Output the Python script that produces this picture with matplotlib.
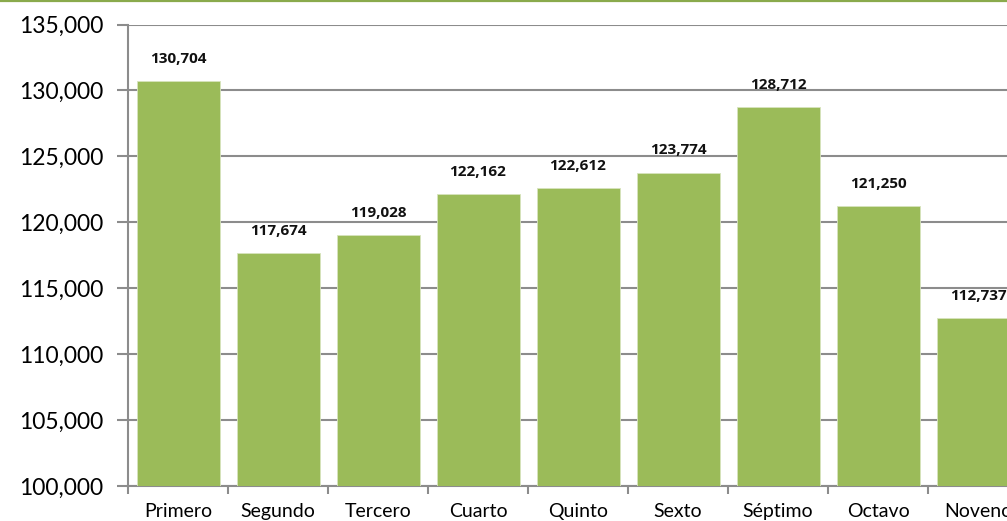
import matplotlib
matplotlib.use("Agg")
import matplotlib.pyplot as plt
from matplotlib.lines import Line2D
from matplotlib.ticker import FuncFormatter, MultipleLocator

# Datos por grado
grados = ['Primero', 'Segundo', 'Tercero', 'Cuarto', 'Quinto', 'Sexto',
          'Séptimo', 'Octavo', 'Noveno']
alumnos = [130704, 117674, 119028, 122162, 122612, 123774, 128712, 121250, 112737]

plt.rcParams['font.family'] = ['Lato', 'DejaVu Sans']

W, H = 1007, 521
fig = plt.figure(figsize=(W / 100, H / 100), dpi=100)
# el area del grafico se sale por la derecha (recortado como en la imagen)
ax = fig.add_axes([128 / W, 35 / H, 900 / W, (486 - 24.5) / H])

x = list(range(len(grados)))
ax.bar(x, alumnos, width=0.83, color='#9BBB59', edgecolor='#D7E4BD', linewidth=0.6,
       bottom=0, zorder=3)

ax.set_ylim(100000, 135000)
ax.set_xlim(-0.5, len(grados) - 0.5)
ax.yaxis.set_major_locator(MultipleLocator(5000))
ax.yaxis.set_major_formatter(FuncFormatter(lambda v, p: f'{int(v):,}'))
ax.grid(axis='y', color='#8C8C8C', linewidth=1.5, zorder=0)

for s in ['top', 'right']:
    ax.spines[s].set_visible(False)
for s in ['left', 'bottom']:
    ax.spines[s].set_color('#8C8C8C')
    ax.spines[s].set_linewidth(1.5)

ax.tick_params(axis='y', length=8, width=1.5, color='#8C8C8C', labelsize=16.5, pad=10)
# ticks del eje x en los limites de cada categoria, etiquetas en el centro
ax.set_xticks([i - 0.5 for i in range(len(grados) + 1)])
ax.set_xticklabels([])
ax.set_xticks(x, minor=True)
ax.set_xticklabels(grados, minor=True, fontsize=14)
ax.tick_params(axis='x', which='major', length=6, width=1.5, color='#8C8C8C')
ax.tick_params(axis='x', which='minor', length=0, pad=12)

for i, v in enumerate(alumnos):
    ax.annotate(f'{v:,}', (i, v), xytext=(0, 11), textcoords='offset points',
                ha='center', va='bottom', fontsize=11, fontweight='bold',
                family=['Open Sans', 'DejaVu Sans'], color='#111111')

fig.add_artist(Line2D([0, 1], [1 - 1 / H, 1 - 1 / H], color='#8AAA4C', linewidth=1.6))

fig.savefig('out.png', dpi=100)
